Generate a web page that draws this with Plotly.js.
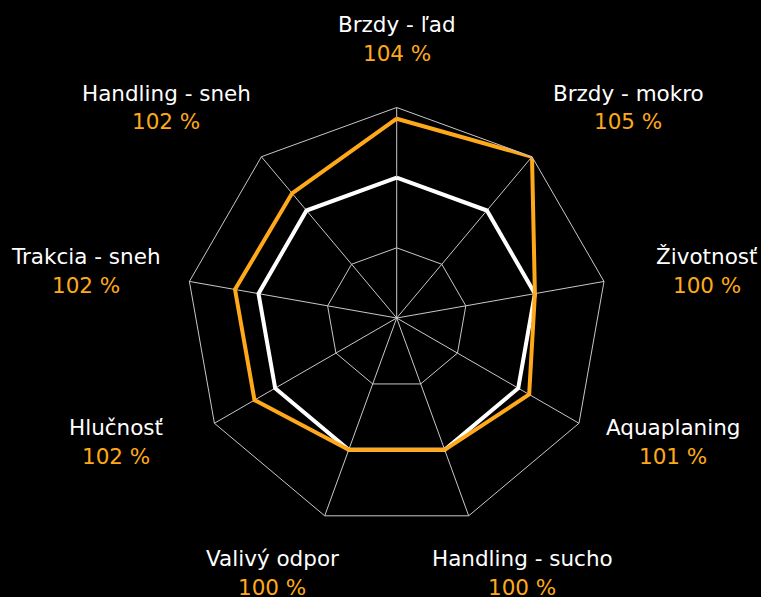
<!DOCTYPE html>
<html>
<head>
<meta charset="utf-8">
<script src="https://cdn.plot.ly/plotly-3.0.1.min.js"></script>
<style>
  html, body { margin: 0; padding: 0; background: #000; }
  #chart { width: 761px; height: 597px; }
</style>
</head>
<body>
<div id="chart"></div>
<script>
// ---- data ----
const categories = ['Brzdy - ľad', 'Brzdy - mokro', 'Životnosť', 'Aquaplaning', 'Handling - sucho', 'Valivý odpor', 'Hlučnosť', 'Trakcia - sneh', 'Handling - sneh'];
const baselineValues = [100, 100, 100, 100, 100, 100, 100, 100, 100];
const productValues = [104.2, 105, 100, 100.9, 100, 100, 101.7, 101.7, 101.6];
const percentLabels = ['104 %', '105 %', '100 %', '101 %', '100 %', '100 %', '102 %', '102 %', '102 %'];
const radialTicks = [95, 100, 105];

// ---- layout config (pixel centres of label blocks) ----
const W = 761, H = 597;
const labelCenters = [
  [397, 25], [628, 93], [707, 256], [673, 427], [522, 558],
  [272, 558], [116, 427], [86, 256], [166, 93]
];
const lineGap = 29;
const orange = '#ffa91a';
const gridCol = '#c8c8c8';
const fontFam = '"DejaVu Sans", "Noto Sans", sans-serif';
const fontSize = 21.5;

function closeLoop(a) { return a.concat([a[0]]); }

const traces = [
  {
    type: 'scatterpolar', mode: 'lines',
    r: closeLoop(baselineValues), theta: closeLoop(categories),
    line: { color: '#ffffff', width: 4 }, hoverinfo: 'skip', showlegend: false
  },
  {
    type: 'scatterpolar', mode: 'lines',
    r: closeLoop(productValues), theta: closeLoop(categories),
    line: { color: orange, width: 4 }, hoverinfo: 'skip', showlegend: false
  }
];

const annotations = [];
categories.forEach((c, i) => {
  const [px, py] = labelCenters[i];
  annotations.push({
    xref: 'paper', yref: 'paper', x: px / W, y: 1 - py / H,
    xanchor: 'center', yanchor: 'middle', showarrow: false,
    text: c, font: { family: fontFam, size: fontSize, color: '#ffffff' }
  });
  annotations.push({
    xref: 'paper', yref: 'paper', x: px / W, y: 1 - (py + lineGap) / H,
    xanchor: 'center', yanchor: 'middle', showarrow: false,
    text: percentLabels[i], font: { family: fontFam, size: fontSize, color: orange }
  });
});

const cx = 396.7, cy = 318, R = 210.5;
const layout = {
  width: W, height: H,
  margin: { l: 0, r: 0, t: 0, b: 0 },
  paper_bgcolor: '#000000', plot_bgcolor: '#000000',
  showlegend: false,
  polar: {
    bgcolor: '#000000',
    gridshape: 'linear',
    domain: { x: [(cx - R) / W, (cx + R) / W], y: [1 - (cy + R) / H, 1 - (cy - R) / H] },
    angularaxis: {
      type: 'category', categoryarray: categories,
      direction: 'clockwise', rotation: 90,
      showticklabels: false, ticks: '',
      showgrid: true, gridcolor: gridCol, gridwidth: 1,
      showline: true, linecolor: gridCol, linewidth: 1
    },
    radialaxis: {
      range: [90, 105], autorange: false,
      tickvals: radialTicks, showticklabels: false, ticks: '',
      showline: false, showgrid: true, gridcolor: gridCol, gridwidth: 1
    }
  },
  annotations: annotations
};

Plotly.newPlot('chart', traces, layout, { staticPlot: true, displayModeBar: false });
</script>
</body>
</html>
